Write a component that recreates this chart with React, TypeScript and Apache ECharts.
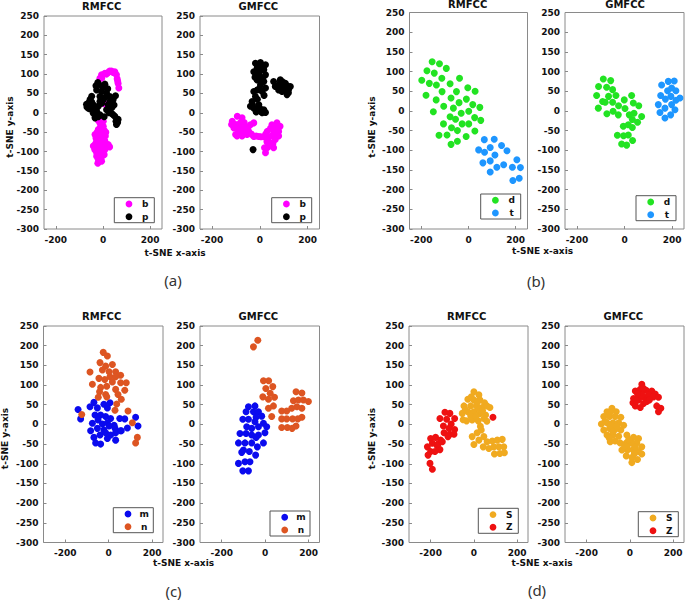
import { useEffect, useRef } from "react";
import * as echarts from "echarts";

type Pt = [number, number];

// ---------------- data (t-SNE coordinates) ----------------
// (a) classes b / p
const aRmfccB: Pt[] = [[-13,89],[-6,98],[8,102],[22,104],[36,108],[50,106],[57,98],[60,88],[64,76],[67,64],[8,23],
  [15,100],[28,108],[43,104],[-5,90],[62,82],
  [-6,-13],[-13,-26],[1,-35],[-20,-43],[-6,-52],[-20,-60],[1,-65],[-27,-73],[-13,-78],[8,-73],[-41,-86],[-20,-90],[15,-86],
  [-6,-99],[-27,-103],[-13,-112],[-20,-120],[-6,-125],[8,-95],[22,-82],[-34,-56],[-13,-48],[1,-22],[-27,-112],
  [-20,-20],[-10,-35],[5,-45],[-25,-50],[-8,-62],[-30,-65],[10,-60],[-18,-82],[0,-85],[-35,-95],[-12,-92],[5,-108],
  [-22,-130],[-32,-80],[12,-50],[28,-88],[-8,-118]];
const aRmfccP: Pt[] = [[-22,78],[8,74],[-27,59],[-6,55],[15,51],[29,42],[43,34],[-55,34],[-62,25],[-41,21],[-68,15],[-20,17],
  [1,34],[-13,42],[-27,4],[-13,-5],[15,8],[36,-1],[50,-9],[64,-17],[57,-30],[43,-5],[-34,-13],[22,21],[-48,43],[1,66],[53,44],
  [-41,-1],[-62,12],[-13,29],[-5,70],[-30,70],[20,62],[-48,28],[-70,22],[-55,10],[-30,10],[-5,25],[10,40],[30,30],[38,14],
  [25,0],[5,-10],[-20,-10],[55,-22],[62,-25],[47,20]];
const aGmfccB: Pt[] = [[-94,-9],[-115,-22],[-108,-39],[-81,-26],[-60,-35],[-88,-48],[-74,-60],[-46,-48],[-25,-61],[-39,-31],
  [-53,-56],[-101,-56],[-4,-61],[17,-62],[31,-48],[51,-31],[72,-26],[79,-48],[65,-69],[44,-78],[31,-90],[24,-103],[58,-90],
  [37,-64],[79,-60],[58,-48],[-25,-26],[-74,-13],[-118,-30],[-100,-30],[-85,-40],[-70,-45],[-95,-60],[-80,-55],[-65,-25],
  [-50,-40],[-35,-55],[-15,-60],[5,-62],[25,-55],[45,-40],[65,-35],[75,-40],[50,-60],[40,-85],[55,-80],[70,-55],[30,-75],
  [20,-90],[85,-35]];
const aGmfccP: Pt[] = [[-18,128],[3,130],[24,124],[-11,115],[17,111],[-25,106],[-4,98],[24,98],[-11,85],[17,81],[3,72],[24,64],
  [-11,59],[10,55],[-18,42],[-32,29],[-39,17],[-25,12],[-11,8],[3,4],[17,8],[24,1],[-4,21],[-28,-95],
  [-8,120],[10,120],[0,108],[12,90],[-20,92],[5,80],[-2,62],[18,45],[-25,55],[-10,35],[-30,20],[-15,2],[10,0],[0,12],
  [58,81],[86,85],[107,76],[72,70],[100,66],[121,61],[93,55],[114,47],[79,59],[128,68],[65,68],
  [95,80],[115,70],[90,68],[105,58],[120,52],[85,76]];

// (b) classes d / t
const bRmfccD: Pt[] = [[-154,125],[-123,120],[-176,102],[-145,96],[-94,108],[-198,78],[-166,70],[-136,66],[-113,83],[-78,69],
  [-38,83],[-180,40],[-137,28],[-112,49],[-74,33],[-51,49],[-3,59],[28,50],[-149,-2],[-105,12],[-64,7],[-40,21],[-9,30],[18,16],
  [48,9],[-78,-15],[-55,-21],[-31,-6],[1,-1],[26,-17],[52,-24],[-106,-33],[-72,-43],[-47,-50],[-27,-33],[1,-33],[27,-51],
  [-125,-62],[-91,-61],[-74,-85],[-47,-77],[-10,-65]];
const bRmfccT: Pt[] = [[67,-73],[109,-72],[43,-99],[68,-105],[92,-93],[112,-112],[140,-88],[163,-101],[61,-132],[92,-127],
  [120,-143],[92,-155],[149,-137],[186,-143],[205,-124],[220,-144],[188,-177],[215,-171]];
const bGmfccD: Pt[] = [[-89,81],[-58,77],[-109,62],[-75,60],[-50,54],[-117,39],[-92,24],[-67,37],[-36,39],[-110,7],[-81,22],
  [-50,22],[-25,13],[-74,-7],[-48,-1],[-1,28],[30,39],[2,6],[37,20],[60,13],[-26,-10],[20,-10],[40,-6],[72,-14],[33,-22],
  [55,-29],[33,-42],[-5,-39],[16,-35],[-30,-62],[-4,-63],[16,-61],[34,-75],[-12,-84],[9,-87]];
const bGmfccT: Pt[] = [[156,66],[184,75],[209,76],[152,39],[181,51],[198,58],[216,51],[233,33],[172,30],[195,37],[216,27],
  [142,16],[198,16],[149,-4],[170,7],[194,-10],[212,3],[170,-18]];

// (c) classes m / n
const cRmfccM: Pt[] = [[-141,38],[-129,14],[-86,45],[-68,56],[-52,42],[-22,51],[6,55],[-6,42],[-63,24],[-37,24],[-14,20],[9,15],
  [-75,3],[-49,11],[-29,1],[-6,4],[25,-2],[51,15],[74,14],[-83,-16],[-52,-10],[-22,-14],[2,-4],[29,-10],[55,-16],[86,-9],
  [124,18],[135,-4],[-68,-33],[-40,-27],[-14,-21],[9,-27],[32,-21],[58,-16],[-60,-47],[-37,-50],[-6,-36],[32,-40]];
const cRmfccN: Pt[] = [[-25,183],[-6,174],[-40,157],[17,152],[-14,148],[-86,133],[-29,138],[2,134],[32,134],[55,125],[-45,117],
  [-18,114],[6,121],[32,121],[-75,102],[-37,94],[-9,97],[17,108],[55,106],[81,106],[-42,83],[-14,76],[32,89],[74,87],[-48,69],
  [-9,70],[43,76],[58,64],[37,52],[29,36],[89,34],[-124,25],[109,4],[132,-33],[124,-47]];
const cGmfccM: Pt[] = [[-77,45],[-47,47],[-88,32],[-54,32],[-31,32],[-103,13],[-77,13],[-42,18],[-16,21],[-47,7],[-8,3],[7,-6],
  [-85,-6],[-62,-10],[-31,-6],[-116,-23],[-88,-23],[-62,-27],[-31,-27],[-1,-21],[-123,-47],[-93,-47],[-62,-47],[-36,-57],
  [-100,-65],[-73,-69],[-44,-78],[-108,-71],[-123,-99],[-93,-95],[-70,-95],[-103,-118],[-77,-118],[-42,-33],[-8,-47]];
const cGmfccN: Pt[] = [[-54,197],[-34,214],[-8,111],[16,111],[3,91],[35,96],[23,79],[-11,70],[15,64],[43,69],[38,47],[15,41],
  [30,20],[142,83],[169,80],[130,60],[153,62],[176,62],[199,58],[122,41],[146,45],[169,41],[76,34],[99,34],[76,14],[99,14],
  [126,14],[150,14],[169,18],[76,-8],[102,-8],[124,-10],[142,-4]];

// (d) classes S / Z
const dRmfccS: Pt[] = [[0,83],[23,75],[-28,64],[0,62],[28,62],[49,55],[-46,47],[-15,47],[12,47],[38,43],[61,47],[-54,28],[-28,32],
  [0,32],[28,28],[54,24],[-34,9],[-8,11],[20,9],[46,15],[74,43],[-8,-31],[15,-21],[34,-14],[0,-51],[23,-40],[46,-31],[61,-44],
  [85,-42],[108,-40],[131,-38],[69,-61],[92,-57],[115,-57],[138,-57],[95,-75],[120,-74],[141,-72],[43,-57],
  [-12,70],[14,55],[-40,38],[25,40],[-15,22],[10,20],[40,35],[-50,12],[60,8],[30,-5]];
const dRmfccZ: Pt[] = [[-134,31],[-111,28],[-89,15],[-157,15],[-126,13],[-105,1],[-141,-4],[-115,-10],[-89,-13],[-138,-21],
  [-111,-25],[-92,-25],[-120,-31],[-200,-36],[-177,-33],[-154,-40],[-215,-57],[-192,-48],[-169,-55],[-157,-64],[-200,-69],
  [-180,-69],[-166,-50],[-212,-78],[-203,-99],[-192,-114],[-146,-44],[88,18]];
const dGmfccS: Pt[] = [[-83,41],[-106,32],[-63,32],[-121,20],[-94,20],[-68,20],[-42,18],[-132,1],[-106,4],[-78,4],[-52,4],
  [-29,-2],[-121,-14],[-94,-10],[-68,-13],[-42,-14],[-106,-27],[-78,-27],[-52,-30],[-91,-44],[-68,-42],[-14,-27],[17,-33],
  [40,-36],[-45,-47],[-17,-47],[9,-48],[32,-47],[55,-57],[-37,-65],[-11,-65],[14,-64],[40,-69],[55,-75],[-17,-80],[9,-84],
  [35,-89],[9,-97],[-14,-57],[-92,30],[-115,8],[-88,-2],[-60,-5],[-80,-18],[-95,-35],[-5,-38],[25,-58],[-25,-55],[20,-75]];
const dGmfccZ: Pt[] = [[55,102],[25,85],[48,89],[75,87],[101,85],[17,66],[45,70],[66,69],[86,75],[117,77],[40,62],[63,53],
  [25,47],[48,43],[78,58],[109,70],[132,69],[124,47],[143,41],[132,32],[14,55],[55,75],[35,78],[62,92],[90,62],[30,60]];

// axis / label texts
const subplotTitles = ["RMFCC", "GMFCC"];
const panelLabels = ["(a)", "(b)", "(c)", "(d)"];
const classNames = [["b", "p"], ["d", "t"], ["m", "n"], ["S", "Z"]];
const xTickValues = [-200, 0, 200];
const xMins = [-250, -250, -300, -300];
const xMax = 250;
const yMin = -300;
const yMax = 250;
const yStep = 50;
const xAxisName = "t-SNE x-axis";
const yAxisName = "t-SNE y-axis";

const panelData: Pt[][][] = [
  [[aRmfccB, aRmfccP], [aGmfccB, aGmfccP]],
  [[bRmfccD, bRmfccT], [bGmfccD, bGmfccT]],
  [[cRmfccM, cRmfccN], [cGmfccM, cGmfccN]],
  [[dRmfccS, dRmfccZ], [dGmfccS, dGmfccZ]],
];

// ---------------- styling / layout ----------------
const panelColors = [
  ["#FF00FF", "#000000"],
  ["#22E322", "#1E96FF"],
  ["#0A0AEE", "#DD5522"],
  ["#F0AA20", "#EE1111"],
];

const gridBoxes = [
  { left: 44, top: 16, width: 118, height: 213 },
  { left: 200, top: 16, width: 119.5, height: 213 },
  { left: 409.5, top: 12.5, width: 118, height: 216.5 },
  { left: 565, top: 12.5, width: 119, height: 216.5 },
  { left: 43.5, top: 326, width: 119.5, height: 216.5 },
  { left: 200, top: 326, width: 119.5, height: 216.5 },
  { left: 409, top: 326, width: 119, height: 216.5 },
  { left: 565, top: 326, width: 119, height: 216.5 },
];

const titlePos: Pt[] = [
  [101.7, 6.7], [258.3, 6.7],
  [467.7, 4.5], [625, 4.5],
  [101.7, 316.7], [258.3, 316.7],
  [466.7, 316.7], [623.3, 316.7],
];
const legendPos: Pt[] = [
  [114.3, 197.7], [271.7, 197.7],
  [480.7, 194], [636, 195.7],
  [113.3, 507.7], [270, 511],
  [478.3, 508.3], [638.3, 511.7],
];
const LEGEND_W = 40;
const LEGEND_H = 25;
const xNamePos: Pt[] = [[175, 252.5], [542.5, 250.5], [183.5, 563], [542, 563]];
const yNamePos: Pt[] = [[10, 127], [371.7, 127], [4.8, 438.5], [371.7, 438.5]];
const panelLabelPos: Pt[] = [[173, 280], [536, 281], [173.5, 590.5], [537, 589.5]];

const BOLD_FONT = "DejaVu Sans";
const FRAME = "#8a8a8a";

function buildOption(): echarts.EChartsOption {
  const grid: any[] = [];
  const xAxis: any[] = [];
  const yAxis: any[] = [];
  const series: any[] = [];
  const graphic: any[] = [];

  panelData.forEach((panel, p) => {
    panel.forEach((sub, s) => {
      const gi = p * 2 + s;
      grid.push({
        ...gridBoxes[gi],
        show: true,
        borderColor: FRAME,
        borderWidth: 1,
        backgroundColor: "transparent",
        outerBoundsMode: "none",
        containLabel: false,
      });
      const labelStyle = {
        fontFamily: BOLD_FONT,
        fontWeight: "bold",
        fontSize: 9,
        color: "#111",
      };
      xAxis.push({
        type: "value",
        gridIndex: gi,
        min: xMins[p],
        max: xMax,
        axisLine: { show: false, onZero: false },
        axisTick: { show: true, inside: true, length: 3, customValues: xTickValues, lineStyle: { color: FRAME } },
        axisLabel: { ...labelStyle, customValues: xTickValues, margin: 6 },
        splitLine: { show: false },
      });
      yAxis.push({
        type: "value",
        gridIndex: gi,
        min: yMin,
        max: yMax,
        interval: yStep,
        axisLine: { show: false, onZero: false },
        axisTick: { show: true, inside: true, length: 3, lineStyle: { color: FRAME } },
        axisLabel: { ...labelStyle, margin: 5 },
        splitLine: { show: false },
      });
      sub.forEach((pts, k) => {
        series.push({
          type: "scatter",
          name: classNames[p][k],
          xAxisIndex: gi,
          yAxisIndex: gi,
          data: pts,
          symbol: "circle",
          symbolSize: 7,
          itemStyle: { color: panelColors[p][k], opacity: 1 },
          emphasis: { disabled: true },
          silent: true,
          z: 2 + k,
        });
      });
      // legend box (drawn as a framed key)
      const [lx, ly] = legendPos[gi];
      graphic.push({
        type: "rect",
        z: 10,
        shape: { x: lx, y: ly, width: LEGEND_W, height: LEGEND_H },
        style: { fill: "#ffffff", stroke: "#555", lineWidth: 1 },
      });
      classNames[p].forEach((n, k) => {
        const cy = ly + 6.3 + k * 12.7;
        graphic.push({
          type: "circle",
          z: 11,
          shape: { cx: lx + 14.7, cy, r: 3.4 },
          style: { fill: panelColors[p][k] },
        });
        graphic.push({
          type: "text",
          z: 11,
          x: lx + 31,
          y: cy,
          style: {
            text: n,
            font: `bold 9px "${BOLD_FONT}"`,
            fill: "#111",
            textAlign: "center",
            textVerticalAlign: "middle",
          },
        });
      });
      graphic.push({
        type: "text",
        x: titlePos[gi][0],
        y: titlePos[gi][1],
        style: {
          text: subplotTitles[s],
          font: `bold 10px "${BOLD_FONT}"`,
          fill: "#111",
          textAlign: "center",
          textVerticalAlign: "middle",
        },
      });
    });
    graphic.push({
      type: "text",
      x: xNamePos[p][0],
      y: xNamePos[p][1],
      style: {
        text: xAxisName,
        font: `bold 9px "${BOLD_FONT}"`,
        fill: "#111",
        textAlign: "center",
        textVerticalAlign: "middle",
      },
    });
    graphic.push({
      type: "text",
      x: yNamePos[p][0],
      y: yNamePos[p][1],
      rotation: Math.PI / 2,
      style: {
        text: yAxisName,
        font: `bold 9px "${BOLD_FONT}"`,
        fill: "#111",
        textAlign: "center",
        textVerticalAlign: "middle",
      },
    });
    graphic.push({
      type: "text",
      x: panelLabelPos[p][0],
      y: panelLabelPos[p][1],
      style: {
        text: panelLabels[p],
        font: `15px "Noto Sans"`,
        fill: "#333",
        textAlign: "center",
        textVerticalAlign: "middle",
      },
    });
  });

  return {
    animation: false,
    backgroundColor: "#ffffff",
    grid,
    xAxis,
    yAxis,
    series,
    graphic,
  } as any;
}

export default function App() {
  const ref = useRef<HTMLDivElement>(null);
  useEffect(() => {
    if (!ref.current) return;
    const chart = echarts.init(ref.current, null, { renderer: "svg" });
    chart.setOption(buildOption());
    return () => chart.dispose();
  }, []);
  return (
    <div
      ref={ref}
      style={{ position: "fixed", left: 0, top: 0, width: 685, height: 600, background: "#fff" }}
    />
  );
}
